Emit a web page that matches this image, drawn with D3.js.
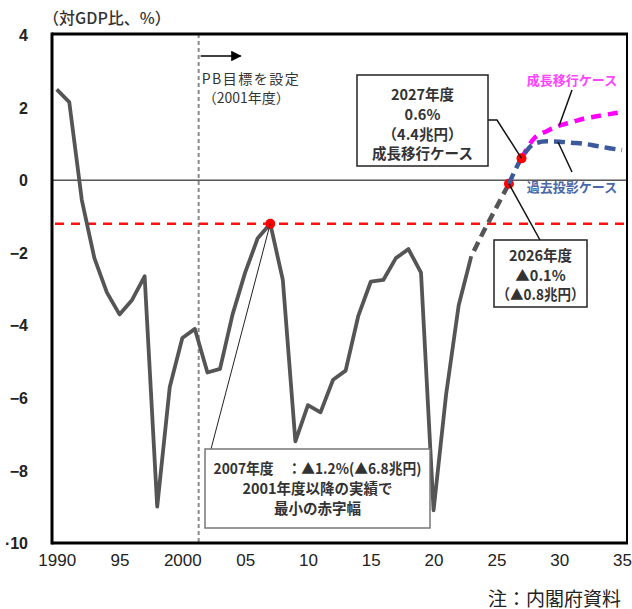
<!DOCTYPE html>
<html><head><meta charset="utf-8">
<script src="https://cdn.jsdelivr.net/npm/d3@7"></script>
<style>
html,body{margin:0;padding:0;background:#fff;}
svg{display:block;}
</style></head>
<body>
<svg id="c" width="632" height="609"></svg>
<script>
// ---- data ----
const actualYears = d3.range(1990, 2024);
const actualValues = [2.5, 2.15, -0.55, -2.15, -3.1, -3.7, -3.3, -2.65, -9.0, -5.7,
  -4.35, -4.1, -5.3, -5.2, -3.7, -2.55, -1.6, -1.2, -2.75, -7.2,
  -6.2, -6.4, -5.5, -5.25, -3.75, -2.8, -2.75, -2.15, -1.9, -2.55,
  -9.1, -5.9, -3.45, -2.1];
const bridgeYears = [2023, 2024, 2025, 2026];
const bridgeValues = [-2.1, -1.4, -0.75, -0.1];
const pastYears = [2026, 2027, 2028, 2029, 2030, 2031, 2032, 2033, 2034, 2035];
const pastValues = [-0.1, 0.6, 1.0, 1.07, 1.06, 1.03, 1.0, 0.94, 0.88, 0.83];
const growthYears = [2027, 2028, 2029, 2030, 2031, 2032, 2033, 2034, 2035];
const growthValues = [0.6, 1.15, 1.35, 1.5, 1.6, 1.7, 1.76, 1.82, 1.88];
const markerPoints = [{year: 2007, value: -1.2}, {year: 2026, value: -0.1}, {year: 2027, value: 0.6}];
const refLevel = -1.2;
const pbYear = 2001.3;
const xTickValues = [1990, 1995, 2000, 2005, 2010, 2015, 2020, 2025, 2030, 2035];
const xTickLabels = ["1990", "95", "2000", "05", "10", "15", "20", "25", "30", "35"];
const yTickValues = [4, 2, 0, -2, -4, -6, -8, -10];
const yTickLabels = ["4", "2", "0", "\u22122", "\u22124", "\u22126", "\u22128", "\u00b710"];

// ---- layout ----
const svg = d3.select("#c");
const frame = {left: 52, right: 627, top: 34, bottom: 543};
const x = d3.scaleLinear().domain([1990, 2035]).range([56.7, 622]);
const y = d3.scaleLinear().domain([-10, 4]).range([543, 35]);
const jp = "'Noto Sans CJK JP', 'Noto Sans', sans-serif";
const num = "'Liberation Sans Narrow', 'Liberation Sans', Arial, sans-serif";

// zero line
svg.append("line").attr("x1", frame.left).attr("x2", frame.right)
  .attr("y1", y(0)).attr("y2", y(0)).attr("stroke", "#000").attr("stroke-width", 1);

// PB vertical dashed line
svg.append("line").attr("x1", x(pbYear)).attr("x2", x(pbYear))
  .attr("y1", frame.top).attr("y2", frame.bottom)
  .attr("stroke", "#8a8a8a").attr("stroke-width", 2).attr("stroke-dasharray", "4,3");

// reference red dashed line
svg.append("line").attr("x1", frame.left + 3).attr("x2", frame.right - 2)
  .attr("y1", y(refLevel)).attr("y2", y(refLevel))
  .attr("stroke", "#ff1010").attr("stroke-width", 2.5).attr("stroke-dasharray", "9,7");

const line = d3.line().x(d => x(d[0])).y(d => y(d[1]));
const smooth = d3.line().curve(d3.curveMonotoneX).x(d => x(d[0])).y(d => y(d[1]));

// actual
svg.append("path").datum(actualYears.map((yr, i) => [yr, actualValues[i]]))
  .attr("d", line).attr("fill", "none").attr("stroke", "#555").attr("stroke-width", 3.8)
  .attr("stroke-linejoin", "round");
// bridge
svg.append("path").datum(bridgeYears.map((yr, i) => [yr, bridgeValues[i]]))
  .attr("d", line).attr("fill", "none").attr("stroke", "#555").attr("stroke-width", 4.5)
  .attr("stroke-dasharray", "10,6").attr("stroke-dashoffset", -6);

// markers (2026 under the blue line)
svg.append("circle").attr("cx", x(markerPoints[1].year)).attr("cy", y(markerPoints[1].value))
  .attr("r", 5).attr("fill", "#ff0000");

// growth case (magenta)
svg.append("path").datum(growthYears.map((yr, i) => [yr, growthValues[i]]))
  .attr("d", smooth).attr("fill", "none").attr("stroke", "#ff00ff").attr("stroke-width", 4.5)
  .attr("stroke-dasharray", "10,7");
// past projection case (blue)
svg.append("path").datum(pastYears.map((yr, i) => [yr, pastValues[i]]))
  .attr("d", smooth).attr("fill", "none").attr("stroke", "#3a5a9c").attr("stroke-width", 4.5)
  .attr("stroke-dasharray", "11,6");

svg.selectAll("circle.m").data([markerPoints[0], markerPoints[2]]).enter().append("circle")
  .attr("class", "m")
  .attr("cx", d => x(d.year)).attr("cy", d => y(d.value)).attr("r", 5)
  .attr("fill", "#ff0000");

// frame
svg.append("line").attr("x1", frame.left).attr("x2", frame.left).attr("y1", frame.top - 1.5).attr("y2", frame.bottom + 1.5)
  .attr("stroke", "#000").attr("stroke-width", 3);
svg.append("line").attr("x1", frame.left).attr("x2", frame.right + 1).attr("y1", frame.top).attr("y2", frame.top)
  .attr("stroke", "#000").attr("stroke-width", 3);
svg.append("line").attr("x1", frame.left).attr("x2", frame.right + 1).attr("y1", frame.bottom).attr("y2", frame.bottom)
  .attr("stroke", "#000").attr("stroke-width", 3);
svg.append("line").attr("x1", frame.right).attr("x2", frame.right).attr("y1", frame.top).attr("y2", frame.bottom)
  .attr("stroke", "#000").attr("stroke-width", 2);

// axes labels
const xAxis = d3.axisBottom(x).tickValues(xTickValues).tickSize(0)
  .tickFormat((d, i) => xTickLabels[i]);
const gx = svg.append("g").attr("transform", `translate(0,${frame.bottom + 8})`).call(xAxis);
gx.select(".domain").remove();
gx.selectAll("text").attr("font-family", num).attr("font-size", 17).attr("fill", "#222");

const yAxis = d3.axisLeft(y).tickValues(yTickValues).tickSize(0)
  .tickFormat((d, i) => yTickLabels[i]);
const gy = svg.append("g").attr("transform", `translate(31,0)`).call(yAxis);
gy.select(".domain").remove();
gy.selectAll("text").attr("font-family", num).attr("font-size", 16).attr("fill", "#222")
  .attr("font-weight", "bold").attr("dy", "0.35em");

// unit label
svg.append("text").attr("x", 43).attr("y", 17).attr("dominant-baseline", "central")
  .attr("font-family", jp).attr("font-size", 16).attr("fill", "#333").attr("font-weight", 500)
  .text("（対GDP比、%）");

// PB arrow + label
svg.append("defs").append("marker").attr("id", "ah").attr("viewBox", "0 0 10 10")
  .attr("refX", 9).attr("refY", 5).attr("markerWidth", 7).attr("markerHeight", 7)
  .attr("orient", "auto").append("path").attr("d", "M0,0L10,5L0,10z").attr("fill", "#000");
svg.append("line").attr("x1", x(pbYear) + 2).attr("x2", x(pbYear) + 42).attr("y1", 56).attr("y2", 56)
  .attr("stroke", "#000").attr("stroke-width", 1.5).attr("marker-end", "url(#ah)");
svg.append("text").attr("x", x(pbYear) + 3).attr("y", 78).attr("dominant-baseline", "central")
  .attr("font-family", jp).attr("font-size", 14).attr("letter-spacing", 1.5).attr("fill", "#333").text("PB目標を設定");
svg.append("text").attr("x", x(pbYear) + 4).attr("y", 97).attr("dominant-baseline", "central")
  .attr("font-family", jp).attr("font-size", 14).attr("fill", "#333").text("（2001年度）");

// annotation boxes
function box(x0, y0, x1, y1, lines, lineYs, stroke, fs, maxW) {
  svg.append("rect").attr("x", x0).attr("y", y0).attr("width", x1 - x0).attr("height", y1 - y0)
    .attr("fill", "#fff").attr("stroke", stroke).attr("stroke-width", 1.5);
  lines.forEach((t, i) => {
    const tx = svg.append("text").attr("x", (x0 + x1) / 2).attr("y", lineYs[i]).attr("text-anchor", "middle")
      .attr("dominant-baseline", "central").attr("font-family", jp).attr("font-weight", "bold")
      .attr("font-size", fs).attr("fill", "#333").text(t);
    if (maxW && tx.node().getComputedTextLength() > maxW) {
      tx.attr("textLength", maxW).attr("lengthAdjust", "spacingAndGlyphs");
    }
  });
}
// leaders
svg.append("path").attr("d", `M211,449L${x(2007)},${y(-1.2)}`).attr("stroke", "#222").attr("stroke-width", 1).attr("fill", "none");
svg.append("path").attr("d", `M488,120L497,120L${x(2027)},${y(0.6)}`).attr("stroke", "#111").attr("stroke-width", 1.5).attr("fill", "none");
svg.append("path").attr("d", `M${x(2026)},${y(-0.1)}L540,240`).attr("stroke", "#111").attr("stroke-width", 1.5).attr("fill", "none");
svg.append("path").attr("d", "M572,90L559,126").attr("stroke", "#111").attr("stroke-width", 1.5).attr("fill", "none");
svg.append("path").attr("d", "M572,172L558,142").attr("stroke", "#111").attr("stroke-width", 1.5).attr("fill", "none");

box(357, 75, 488, 166, ["2027年度", "0.6%", "（4.4兆円）", "成長移行ケース"], [93, 113, 133, 152], "#222", 14.5, 120);
box(494, 240, 587, 307, ["2026年度", "▲0.1%", "（▲0.8兆円）"], [254, 274, 293], "#222", 14.5, 88);
box(205, 449, 430, 528, ["2007年度　：▲1.2%(▲6.8兆円)", "2001年度以降の実績で", "最小の赤字幅"], [467, 487, 507], "#777", 14.5, 208);

// case labels
svg.append("text").attr("x", 572).attr("y", 79).attr("text-anchor", "middle").attr("dominant-baseline", "central")
  .attr("font-family", jp).attr("font-weight", "bold").attr("font-size", 13).attr("fill", "#ff44ff").text("成長移行ケース");
svg.append("text").attr("x", 572).attr("y", 186).attr("text-anchor", "middle").attr("dominant-baseline", "central")
  .attr("font-family", jp).attr("font-weight", "bold").attr("font-size", 13).attr("fill", "#4a68a8").text("過去投影ケース");

// note
svg.append("text").attr("x", 621).attr("y", 597).attr("text-anchor", "end").attr("dominant-baseline", "central")
  .attr("font-family", jp).attr("font-size", 19).attr("fill", "#222").text("注：内閣府資料");
</script>
</body></html>
